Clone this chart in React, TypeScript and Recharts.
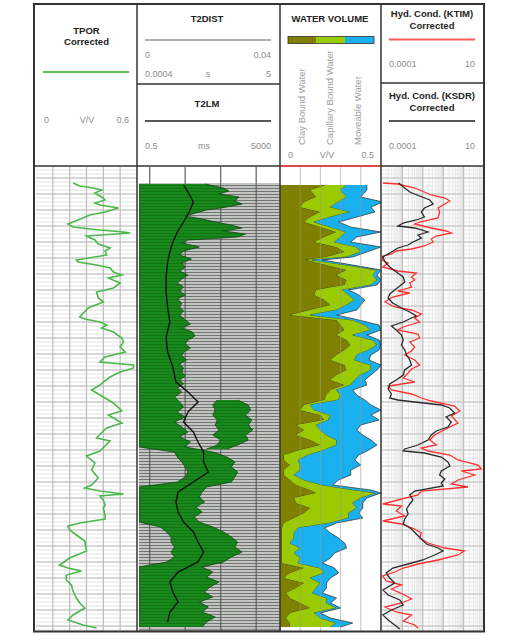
import React from 'react';
import { ComposedChart, Line, Area, XAxis, YAxis, CartesianGrid, ReferenceLine } from 'recharts';

// ---------------- DATA (depth index downward, values in curve units) ----------------
const DEPTH_DOMAIN: [number, number] = [0, 500];

// TPOR Corrected (V/V)
const tporCorrected: [number, number][] = [
  [16, 0.22], [19, 0.26], [21, 0.34], [23, 0.39], [26, 0.35], [30, 0.39], [33, 0.41], [36, 0.35], [38, 0.38], [41, 0.49],
  [45, 0.41], [48, 0.32], [53, 0.25], [57, 0.19], [60, 0.22], [63, 0.38], [65, 0.52], [66, 0.56], [69, 0.3], [73, 0.35],
  [77, 0.37], [81, 0.44], [84, 0.41], [88, 0.42], [93, 0.24], [95, 0.25], [98, 0.36], [101, 0.44], [105, 0.46], [108, 0.51],
  [111, 0.43], [116, 0.5], [121, 0.46], [125, 0.36], [131, 0.37], [135, 0.4], [141, 0.31], [150, 0.26], [152, 0.29], [155, 0.38],
  [158, 0.42], [161, 0.39], [165, 0.46], [171, 0.51], [175, 0.52], [180, 0.5], [185, 0.53], [190, 0.41], [195, 0.38], [198, 0.58],
  [201, 0.58], [205, 0.5], [210, 0.44], [215, 0.4], [218, 0.38], [223, 0.33], [226, 0.36], [231, 0.41], [236, 0.46], [244, 0.51],
  [248, 0.43], [256, 0.51], [261, 0.42], [264, 0.4], [271, 0.36], [274, 0.44], [279, 0.41], [284, 0.38], [289, 0.3], [296, 0.35],
  [303, 0.33], [311, 0.37], [318, 0.33], [321, 0.29], [324, 0.38], [327, 0.52], [329, 0.38], [333, 0.4], [338, 0.41], [341, 0.4],
  [348, 0.41], [352, 0.41], [356, 0.26], [359, 0.19], [363, 0.2], [368, 0.24], [374, 0.29], [384, 0.3], [391, 0.2], [398, 0.14],
  [401, 0.19], [404, 0.27], [408, 0.18], [413, 0.18], [418, 0.21], [424, 0.22], [431, 0.24], [436, 0.26], [441, 0.29], [448, 0.22],
  [453, 0.19], [458, 0.28], [461, 0.36],
];

// T2 distribution envelope (ms): [depth, low, high]
const t2DistMain: [number, number, number][] = [
  [17, 0.5, 37], [21, 0.5, 120], [24, 0.5, 170], [27, 0.5, 90], [30, 0.5, 330], [34, 0.5, 250], [37, 0.5, 400], [40, 0.5, 150],
  [43, 0.5, 40], [46, 0.5, 20], [49, 0.5, 10], [52, 0.5, 30], [55, 0.5, 70], [58, 0.5, 200], [61, 0.5, 400], [64, 0.5, 120],
  [67, 0.5, 500], [70, 0.5, 300], [73, 0.5, 12], [76, 0.5, 8], [80, 0.5, 25], [84, 0.5, 9], [88, 0.5, 7], [92, 0.5, 15],
  [96, 0.5, 8], [100, 0.5, 10], [104, 0.5, 7], [108, 0.5, 12], [112, 0.5, 8], [116, 0.5, 6], [120, 0.5, 9], [124, 0.5, 7],
  [128, 0.5, 10], [132, 0.5, 6], [136, 0.5, 8], [140, 0.5, 7], [144, 0.5, 9], [148, 0.5, 7], [153, 0.5, 10], [157, 0.5, 14],
  [161, 0.5, 8], [165, 0.5, 16], [169, 0.5, 19], [173, 0.5, 12], [177, 0.5, 10], [181, 0.5, 14], [185, 0.5, 9], [189, 0.5, 8],
  [193, 0.5, 11], [197, 0.5, 7], [201, 0.5, 9], [205, 0.5, 8], [209, 0.5, 10], [213, 0.5, 7], [217, 0.5, 9], [221, 0.5, 6],
  [225, 0.5, 8], [230, 0.5, 5], [235, 0.5, 7], [240, 0.5, 9], [245, 0.5, 6], [250, 0.5, 10], [255, 0.5, 5], [260, 0.5, 8],
  [265, 0.5, 12], [270, 0.5, 7], [275, 0.5, 14], [280, 0.5, 10], [285, 5, 60], [290, 6, 150], [295, 8, 250], [300, 10, 200],
  [305, 12, 300], [310, 10, 250], [315, 6, 200], [320, 0.5, 40], [325, 0.5, 30], [330, 0.5, 25], [335, 0.5, 35], [340, 0.5, 20],
  [345, 0.5, 30], [350, 0.5, 18], [355, 0.5, 25], [360, 2, 60], [365, 3, 120], [370, 4, 200], [375, 4, 300], [380, 5, 250],
  [385, 4, 400], [390, 5, 200], [395, 3, 120], [400, 0.5, 30], [405, 0.5, 60], [410, 0.5, 40], [415, 0.5, 90], [420, 0.5, 50],
  [425, 0.5, 35], [430, 0.5, 60], [435, 0.5, 25], [440, 0.5, 45], [445, 0.5, 30], [450, 0.5, 70], [455, 0.5, 40], [460, 0.5, 30],
];
const t2DistLobe: [number, number, number][] = [
  [233, 80, 300], [238, 60, 600], [243, 70, 700], [248, 60, 500], [253, 80, 750], [258, 70, 600], [263, 90, 800],
  [268, 60, 500], [273, 100, 600], [278, 80, 300], [282, 40, 150],
];

// T2LM (ms)
const t2lm: [number, number][] = [
  [18, 9], [25, 12], [35, 17], [45, 13], [55, 9], [65, 6], [75, 4.5], [85, 3.7], [95, 3.2], [110, 2.9], [125, 2.9],
  [140, 3.2], [155, 3.7], [170, 2.9], [185, 3.2], [200, 4.5], [215, 5.5], [225, 12], [235, 23], [245, 12], [255, 9],
  [265, 17], [275, 23], [285, 33], [295, 33], [305, 45], [315, 17], [325, 6.3], [335, 5.5], [345, 6.3], [355, 9],
  [365, 17], [375, 23], [385, 33], [395, 23], [405, 6.3], [415, 3.7], [425, 4.5], [435, 6.3], [445, 3.7], [455, 3.2],
];

// Water volume (V/V): [depth, clay bound, capillary bound, moveable]
const waterVolume: [number, number, number, number][] = [
  [18, 0.23, 0.1, 0.1], [23, 0.15, 0.15, 0.13], [30, 0.18, 0.15, 0.07], [35, 0.12, 0.17, 0.22], [40, 0.1, 0.15, 0.2],
  [45, 0.2, 0.15, 0.12], [50, 0.15, 0.1, 0.13], [55, 0.12, 0.05, 0.12], [60, 0.2, 0.05, 0.1], [65, 0.28, 0.05, 0.17],
  [70, 0.22, 0.08, 0.08], [75, 0.17, 0.1, 0.08], [80, 0.28, 0.1, 0.12], [85, 0.32, 0.08, 0.03], [90, 0.23, 0.1, 0.03],
  [93, 0.13, 0.03, 0.05], [98, 0.23, 0.1, 0.03], [103, 0.33, 0.15, 0.02], [108, 0.28, 0.18, 0.02], [113, 0.33, 0.15, 0.02],
  [118, 0.32, 0.13, 0.03], [123, 0.18, 0.13, 0.03], [128, 0.17, 0.17, 0.05], [133, 0.22, 0.15, 0.05], [138, 0.25, 0.08, 0.07],
  [143, 0.15, 0.13, 0.1], [148, 0.05, 0.1, 0.13], [153, 0.28, 0.08, 0.03], [158, 0.3, 0.12, 0.07], [163, 0.32, 0.13, 0.05],
  [168, 0.28, 0.08, 0.07], [173, 0.33, 0.13, 0.03], [178, 0.35, 0.13, 0.02], [183, 0.32, 0.12, 0.05], [188, 0.28, 0.1, 0.07],
  [193, 0.25, 0.12, 0.07], [198, 0.32, 0.13, 0.05], [203, 0.33, 0.12, 0.03], [208, 0.28, 0.12, 0.05], [213, 0.25, 0.12, 0.05],
  [218, 0.32, 0.03, 0.08], [223, 0.25, 0.03, 0.08], [228, 0.23, 0.07, 0.08], [233, 0.22, 0.07, 0.13], [238, 0.12, 0.03, 0.3],
  [243, 0.1, 0.07, 0.33], [248, 0.2, 0.05, 0.2], [253, 0.22, 0.02, 0.25], [258, 0.08, 0.1, 0.22], [263, 0.12, 0.08, 0.18],
  [268, 0.08, 0.15, 0.18], [273, 0.15, 0.13, 0.17], [278, 0.2, 0.08, 0.2], [283, 0.1, 0.12, 0.22], [288, 0.02, 0.12, 0.25],
  [293, 0.02, 0.07, 0.28], [298, 0.05, 0.05, 0.3], [303, 0.02, 0.08, 0.25], [308, 0.02, 0.05, 0.28], [313, 0.05, 0.07, 0.17],
  [318, 0.08, 0.13, 0.05], [323, 0.15, 0.22, 0.08], [326, 0.18, 0.3, 0.02], [331, 0.07, 0.33, 0.03], [336, 0.08, 0.28, 0.05],
  [341, 0.15, 0.23, 0.03], [346, 0.12, 0.22, 0.05], [351, 0.07, 0.27, 0.07], [356, 0.02, 0.23, 0.03], [361, 0.01, 0.08, 0.13],
  [366, 0.01, 0.06, 0.18], [371, 0.01, 0.06, 0.22], [376, 0.01, 0.04, 0.27], [381, 0.01, 0.09, 0.23], [386, 0.01, 0.06, 0.2],
  [391, 0.01, 0.09, 0.15], [396, 0.01, 0.08, 0.12], [401, 0.12, 0.08, 0.07], [406, 0.05, 0.17, 0.07], [411, 0.02, 0.13, 0.1],
  [416, 0.12, 0.08, 0.03], [421, 0.08, 0.1, 0.05], [426, 0.03, 0.13, 0.05], [431, 0.05, 0.18, 0.05], [436, 0.1, 0.13, 0.02],
  [441, 0.15, 0.13, 0.02], [446, 0.05, 0.12, 0.03], [451, 0.03, 0.17, 0.05], [456, 0.05, 0.23, 0.08], [460, 0.05, 0.2, 0.05],
];

// Hydraulic conductivity KTIM corrected
const ktimCorrected: [number, number][] = [
  [16, 1.1e-4], [17, 6e-4], [21, 4e-3], [28, 2.6e-2], [31, 0.12], [34, 0.21], [37, 0.12], [41, 5.6e-2], [45, 6.7e-2], [51, 5.6e-2],
  [55, 7e-3], [57, 4e-3], [61, 2.6e-2], [64, 0.14], [66, 0.25], [69, 4.6e-2], [72, 2.6e-2], [75, 3.2e-2], [79, 1.2e-2], [82, 2.8e-3],
  [84, 5e-4], [87, 2.9e-4], [89, 1.1e-4], [93, 1e-4], [96, 2e-4], [100, 1.1e-4], [104, 6e-4], [106, 4.8e-3], [110, 2.8e-3], [113, 4e-3],
  [116, 2.3e-3], [120, 2.8e-3], [124, 6e-4], [126, 2.3e-3], [130, 3.3e-4], [135, 1.4e-4], [140, 4.2e-4], [143, 2.8e-3], [147, 8.5e-3],
  [151, 4e-3], [155, 7e-3], [160, 1.1e-3], [163, 6e-4], [167, 5.8e-3], [171, 7e-3], [175, 2.3e-3], [180, 4e-3], [184, 2.8e-3],
  [188, 1.3e-3], [193, 4e-3], [198, 7e-3], [202, 2.8e-3], [206, 1.9e-3], [211, 1.1e-3], [215, 4e-3], [219, 2e-4], [223, 2.9e-4],
  [227, 2.8e-3], [231, 8.5e-3], [234, 2.6e-2], [239, 0.36], [244, 0.65], [249, 0.25], [256, 0.53], [261, 0.17], [268, 3.8e-2],
  [273, 2.2e-2], [278, 4.6e-2], [281, 8.5e-3], [284, 1.8e-2], [288, 0.21], [293, 0.53], [298, 5.1], [302, 7.4], [304, 0.78],
  [308, 3.5], [313, 0.53], [317, 0.25], [320, 1.65], [324, 8.5e-3], [328, 5.8e-3], [333, 6e-4], [337, 1.1e-4], [339, 9e-4],
  [344, 5e-4], [349, 1.3e-3], [354, 1.1e-4], [357, 9e-4], [362, 4e-3], [366, 8.5e-3], [371, 7e-3], [376, 1.8e-2], [381, 0.12],
  [384, 1.1], [388, 0.53], [393, 5.6e-2], [397, 5.8e-3], [401, 1.1e-3], [405, 4.2e-4], [409, 1.1e-4], [414, 1.6e-4], [418, 9e-4],
  [422, 2.9e-4], [428, 1.3e-3], [432, 2.8e-3], [436, 9e-4], [440, 1.4e-4], [445, 5e-4], [448, 2.8e-3], [454, 1.1e-3], [458, 4e-3],
  [461, 5.8e-3],
];

// Hydraulic conductivity KSDR corrected
const ksdrCorrected: [number, number][] = [
  [16, 6.5e-4], [21, 1.3e-3], [25, 2.3e-3], [29, 7e-3], [33, 2.2e-2], [37, 3.2e-2], [41, 1.2e-2], [45, 8.5e-3], [50, 1.2e-2],
  [53, 4.8e-3], [56, 1.1e-3], [59, 6e-4], [61, 4e-3], [65, 1.8e-2], [68, 5.8e-3], [71, 8.5e-3], [75, 3.3e-3], [78, 1.9e-3],
  [81, 6e-4], [85, 2.9e-4], [90, 1.1e-4], [95, 1.4e-4], [100, 2.4e-4], [105, 5e-4], [110, 1.1e-3], [115, 1.3e-3], [119, 7.4e-4],
  [123, 4.2e-4], [127, 2.4e-4], [131, 2e-4], [136, 3.3e-4], [141, 9e-4], [145, 2.3e-3], [149, 4.8e-3], [151, 2.8e-3], [155, 1.1e-3],
  [159, 2.9e-4], [163, 5e-4], [168, 9e-4], [173, 1.1e-3], [178, 9e-4], [183, 1.3e-3], [188, 1.6e-3], [193, 2.3e-3], [198, 2.8e-3],
  [203, 1.3e-3], [208, 1.1e-3], [213, 5e-4], [217, 2.4e-4], [222, 2e-4], [227, 2.9e-4], [231, 2.4e-4], [233, 6e-4], [235, 4e-3],
  [238, 8.1e-2], [241, 0.21], [246, 0.36], [250, 0.14], [255, 0.25], [260, 0.17], [264, 4.6e-2], [268, 2.6e-2], [273, 1.8e-2],
  [278, 5.8e-3], [282, 1.3e-3], [284, 1.1e-3], [286, 1.2e-2], [290, 8.1e-2], [295, 0.17], [299, 0.21], [304, 8.1e-2], [308, 6.7e-2],
  [312, 0.12], [316, 8.1e-2], [319, 9.8e-2], [324, 4e-3], [328, 2.3e-3], [333, 3.3e-3], [337, 2.3e-3], [342, 1.6e-3], [347, 1.9e-3],
  [352, 1.3e-3], [357, 1.1e-3], [362, 2.8e-3], [367, 4.8e-3], [372, 8.5e-3], [377, 1.5e-2], [381, 5.6e-2], [384, 9.8e-2],
  [388, 3.8e-2], [393, 1e-2], [397, 1.9e-3], [401, 3.4e-4], [406, 1.6e-4], [411, 2.4e-4], [416, 4.2e-4], [423, 1.1e-4], [428, 2e-4],
  [433, 7.4e-4], [438, 1.1e-3], [443, 2.9e-4], [448, 1.1e-4], [453, 2e-4], [458, 4.2e-4], [462, 7.4e-4],
];

// Scale / header labels
const TPOR_SCALE = ['0', 'V/V', '0.6'];
const T2DIST_SCALE_A = ['0', '0.04'];
const T2DIST_SCALE_B = ['0.0004', 's', '5'];
const T2LM_SCALE = ['0.5', 'ms', '5000'];
const WV_SCALE = ['0', 'V/V', '0.5'];
const HYD_SCALE = ['0.0001', '10'];
const WV_LABELS = ['Clay Bound Water', 'Capillary Bound Water', 'Moveable Water'];

// ---------------- tables built from the arrays ----------------
const tporRows = tporCorrected.map(([depth, v]) => ({ depth, v }));
const t2MainRows = t2DistMain.map(([depth, lo, hi]) => ({ depth, range: [lo, hi] }));
const t2LobeRows = t2DistLobe.map(([depth, lo, hi]) => ({ depth, range: [lo, hi] }));
const t2lmRows = t2lm.map(([depth, v]) => ({ depth, v }));
const wvRows = waterVolume.map(([depth, clay, cap, move]) => ({ depth, clay, cap, move }));
const ktimRows = ktimCorrected.map(([depth, v]) => ({ depth, v }));
const ksdrRows = ksdrCorrected.map(([depth, v]) => ({ depth, v }));

// ---------------- grid helpers (styling only) ----------------
const seq = (a: number, b: number, s: number) => { const r: number[] = []; for (let v = a; v <= b + 1e-9; v += s) r.push(v); return r; };
const minorDepth = seq(3, 463, 4);
const majorDepth = seq(11, 463, 16);
const logMinor: number[] = [];
[1e-4, 1e-3, 1e-2, 1e-1, 1].forEach((dec) => { for (let k = 2; k <= 9; k++) logMinor.push(dec * k); });
const logMajor = [1e-3, 1e-2, 1e-1, 1];
const t2Decades = [1, 10, 100, 1000];
const t2StripeDepths: number[] = [];
const t2StripeFills: string[] = ['#ffffff'];
for (let d = 16; d < 461; d += 3) { t2StripeDepths.push(d, d + 2); t2StripeFills.push('#c3c3c3', '#8e8e8e'); }
const t2Texture = seq(18.5, 461, 3);

const applyScale = (axis: any, v: number) => {
  const s = axis && axis.scale;
  if (typeof s === 'function') return s(v);
  if (s && typeof s.map === 'function') return s.map(v);
  return 0;
};
const yGen = (vals: number[]) => (p: any) => vals.map((v) => applyScale(p.yAxis, v));
const xGen = (vals: number[]) => (p: any) => vals.map((v) => applyScale(p.xAxis, v));

const H = 500;
const TOP = 167;
const FONT = '"Liberation Sans", Arial, sans-serif';

function Track({ left, width, xDomain, logX, data, children }: any) {
  return (
    <div style={{ position: 'absolute', left, top: TOP, width, height: 464, overflow: 'hidden' }}>
      <ComposedChart width={width} height={H} layout="vertical" data={data} margin={{ top: 0, right: 0, bottom: 0, left: 0 }}>
        <XAxis type="number" hide domain={xDomain} scale={logX ? 'log' : 'auto'} allowDataOverflow />
        <YAxis type="number" dataKey="depth" hide domain={DEPTH_DOMAIN} allowDataOverflow />
        {children}
      </ComposedChart>
    </div>
  );
}

function Header() {
  const title = { fontFamily: FONT, fontSize: 9.5, fontWeight: 700, fill: '#222', textAnchor: 'middle' as const };
  const scale = { fontFamily: FONT, fontSize: 9, fill: '#8c8c8c' };
  return (
    <svg width={518} height={635} style={{ position: 'absolute', left: 0, top: 0, pointerEvents: 'none' }}>
      <rect x={34} y={4} width={450} height={627.5} fill="none" stroke="#333" strokeWidth={2} />
      <line x1={34} y1={166} x2={484} y2={166} stroke="#333" strokeWidth={1.5} />
      <line x1={280} y1={166} x2={381} y2={166} stroke="#ff4040" strokeWidth={1.5} />
      {[137, 280, 381].map((x) => (
        <line key={x} x1={x} y1={4} x2={x} y2={631} stroke="#333" strokeWidth={1.5} />
      ))}
      <line x1={137} y1={84} x2={280} y2={84} stroke="#333" strokeWidth={1.5} />
      <line x1={381} y1={83} x2={484} y2={83} stroke="#333" strokeWidth={1.5} />

      <text x={86.5} y={33.5} {...title}>TPOR</text>
      <text x={86.5} y={45} {...title}>Corrected</text>
      <line x1={43} y1={72} x2={129} y2={72} stroke="#5cc05c" strokeWidth={2} />
      <text x={44} y={123} {...scale}>{TPOR_SCALE[0]}</text>
      <text x={87} y={123} {...scale} textAnchor="middle">{TPOR_SCALE[1]}</text>
      <text x={129} y={123} {...scale} textAnchor="end">{TPOR_SCALE[2]}</text>

      <text x={207} y={22} {...title}>T2DIST</text>
      <line x1={145} y1={40} x2={271} y2={40} stroke="#adadad" strokeWidth={2} />
      <text x={145} y={58} {...scale}>{T2DIST_SCALE_A[0]}</text>
      <text x={271} y={58} {...scale} textAnchor="end">{T2DIST_SCALE_A[1]}</text>
      <text x={145} y={77} {...scale}>{T2DIST_SCALE_B[0]}</text>
      <text x={208} y={77} {...scale} textAnchor="middle">{T2DIST_SCALE_B[1]}</text>
      <text x={271} y={77} {...scale} textAnchor="end">{T2DIST_SCALE_B[2]}</text>

      <text x={207} y={107} {...title}>T2LM</text>
      <line x1={145} y1={121} x2={271} y2={121} stroke="#555" strokeWidth={2} />
      <text x={145} y={148.5} {...scale}>{T2LM_SCALE[0]}</text>
      <text x={204} y={148.5} {...scale} textAnchor="middle">{T2LM_SCALE[1]}</text>
      <text x={271} y={148.5} {...scale} textAnchor="end">{T2LM_SCALE[2]}</text>

      <text x={330} y={22} {...title}>WATER VOLUME</text>
      <rect x={288} y={36.5} width={28.5} height={7} fill="#808000" />
      <rect x={316.5} y={36.5} width={28.5} height={7} fill="#9acb00" />
      <rect x={345} y={36.5} width={29} height={7} fill="#18b0ee" />
      <rect x={288} y={36.5} width={86} height={7} fill="none" stroke="#333" strokeWidth={0.8} />
      {WV_LABELS.map((t, i) => (
        <text key={t} transform={`translate(${[302, 330, 358][i]},145) rotate(-90)`} fontFamily={FONT} fontSize={9.5} fill="#a0a0a0" dominantBaseline="middle">
          {t}
        </text>
      ))}
      <text x={288} y={158} {...scale}>{WV_SCALE[0]}</text>
      <text x={327} y={158} {...scale} textAnchor="middle">{WV_SCALE[1]}</text>
      <text x={374} y={158} {...scale} textAnchor="end">{WV_SCALE[2]}</text>

      <text x={432} y={17} {...title}>Hyd. Cond. (KTIM)</text>
      <text x={432} y={28.5} {...title}>Corrected</text>
      <line x1={389} y1={39.5} x2={475} y2={39.5} stroke="#ff5a5a" strokeWidth={2} />
      <text x={389} y={67} {...scale}>{HYD_SCALE[0]}</text>
      <text x={475} y={67} {...scale} textAnchor="end">{HYD_SCALE[1]}</text>

      <text x={432} y={99} {...title}>Hyd. Cond. (KSDR)</text>
      <text x={432} y={110.5} {...title}>Corrected</text>
      <line x1={389} y1={121} x2={475} y2={121} stroke="#555" strokeWidth={2} />
      <text x={389} y={148.5} {...scale}>{HYD_SCALE[0]}</text>
      <text x={475} y={148.5} {...scale} textAnchor="end">{HYD_SCALE[1]}</text>
    </svg>
  );
}

export default function App() {
  return (
    <div style={{ position: 'absolute', left: 0, top: 0, width: 518, height: 635, background: '#fff', overflow: 'hidden' }}>
      <Track left={36} width={101} xDomain={[0, 0.6]}>
        <CartesianGrid vertical={false} stroke="#e2e2e2" strokeWidth={1} horizontalCoordinatesGenerator={yGen(minorDepth)} />
        <CartesianGrid stroke="#bdbdbd" strokeWidth={1.2} horizontalCoordinatesGenerator={yGen(majorDepth)} verticalCoordinatesGenerator={xGen([0.1, 0.2, 0.3, 0.4, 0.5])} />
        <Line data={tporRows} dataKey="v" type="linear" stroke="#4cb84c" strokeWidth={1.6} dot={false} activeDot={false} isAnimationActive={false} />
      </Track>

      <Track left={139} width={142} xDomain={[0.5, 5000]} logX>
        <CartesianGrid vertical={false} stroke="none" horizontalFill={t2StripeFills} horizontalCoordinatesGenerator={yGen(t2StripeDepths)} />
        <CartesianGrid horizontal={false} stroke="#6a6a6a" strokeWidth={1.3} verticalCoordinatesGenerator={xGen(t2Decades)} />
        <Area data={t2MainRows} dataKey="range" type="linear" fill="#18891b" fillOpacity={1} stroke="#0a4a0c" strokeWidth={0.8} isAnimationActive={false} />
        <Area data={t2LobeRows} dataKey="range" type="linear" fill="#18891b" fillOpacity={1} stroke="#0a4a0c" strokeWidth={0.8} isAnimationActive={false} />
        {t2Texture.map((d) => (
          <ReferenceLine key={d} y={d} stroke="#0b2e0c" strokeOpacity={0.3} strokeWidth={0.8} />
        ))}
        <Line data={t2lmRows} dataKey="v" type="linear" stroke="#111" strokeWidth={1.4} dot={false} activeDot={false} isAnimationActive={false} />
      </Track>

      <Track left={280} width={101} xDomain={[0, 0.5]} data={wvRows}>
        <Area dataKey="clay" stackId="wv" type="linear" fill="#808000" fillOpacity={1} stroke="#2a2a10" strokeWidth={0.7} isAnimationActive={false} />
        <Area dataKey="cap" stackId="wv" type="linear" fill="#9acb00" fillOpacity={1} stroke="#2a2a10" strokeWidth={0.7} isAnimationActive={false} />
        <Area dataKey="move" stackId="wv" type="linear" fill="#18b0ee" fillOpacity={1} stroke="#2a2a2a" strokeWidth={0.7} isAnimationActive={false} />
        {[0.1, 0.2, 0.3, 0.4].map((v) => (
          <ReferenceLine key={v} x={v} stroke="#9a9a9a" strokeOpacity={0.6} strokeWidth={1} />
        ))}
      </Track>

      <Track left={382} width={102} xDomain={[0.0001, 10]} logX>
        <CartesianGrid stroke="#e6e6e6" strokeWidth={1} horizontalCoordinatesGenerator={yGen(minorDepth)} verticalCoordinatesGenerator={xGen(logMinor)} />
        <CartesianGrid stroke="#bdbdbd" strokeWidth={1.2} horizontalCoordinatesGenerator={yGen(majorDepth)} verticalCoordinatesGenerator={xGen(logMajor)} />
        <Line data={ktimRows} dataKey="v" type="linear" stroke="#ff3030" strokeWidth={1.3} dot={false} activeDot={false} isAnimationActive={false} />
        <Line data={ksdrRows} dataKey="v" type="linear" stroke="#2b2b2b" strokeWidth={1.3} dot={false} activeDot={false} isAnimationActive={false} />
      </Track>

      <Header />
    </div>
  );
}
